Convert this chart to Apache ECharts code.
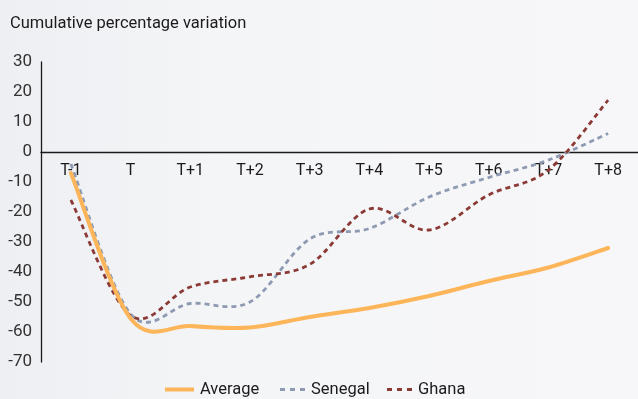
<!DOCTYPE html>
<html>
<head>
<meta charset="utf-8">
<script src="https://cdn.jsdelivr.net/npm/echarts@6/dist/echarts.min.js"></script>
<style>
  html, body { margin: 0; padding: 0; }
  body { background: linear-gradient(90deg, #edeff2 0%, #f4f5f7 35%, #f7f7f9 100%); }
  #chart { width: 638px; height: 399px; }
</style>
</head>
<body>
<div id="chart"></div>
<script>
// Periods relative to the shock year T
const periods = ['T-1', 'T', 'T+1', 'T+2', 'T+3', 'T+4', 'T+5', 'T+6', 'T+7', 'T+8'];

// Cumulative percentage variation by period
const average = [-7, -55.5, -58, -58.5, -55, -52, -48, -43, -38.5, -32];
const senegal = [-4, -54, -50.5, -50, -29, -25.5, -15, -8.5, -2.7, 6.2];
const ghana   = [-16, -54.5, -45, -41.6, -37.5, -19, -26, -14.3, -6, 17.3];

const yTicks = { min: -70, max: 30, step: 10 };

const FONT = '"Liberation Sans Narrow", Roboto, "Open Sans", sans-serif';
const INK = '#1c1a1b';

const COLORS = { average: '#fdb55a', senegal: '#8d9ab2', ghana: '#8b3a36' };

// Smooth curve through the projected points (cardinal spline, tension 1/6)
function curvePath(pts) {
  const n = pts.length;
  const at = (i) => pts[Math.max(0, Math.min(n - 1, i))];
  let d = 'M' + pts[0][0] + ',' + pts[0][1];
  for (let i = 0; i < n - 1; i++) {
    const p0 = at(i - 1), p1 = at(i), p2 = at(i + 1), p3 = at(i + 2);
    const c1x = p1[0] + (p2[0] - p0[0]) / 6, c1y = p1[1] + (p2[1] - p0[1]) / 6;
    const c2x = p2[0] - (p3[0] - p1[0]) / 6, c2y = p2[1] - (p3[1] - p1[1]) / 6;
    d += 'C' + c1x + ',' + c1y + ' ' + c2x + ',' + c2y + ' ' + p2[0] + ',' + p2[1];
  }
  return d;
}

function curveSeries(name, values, color, width, dash, z) {
  return {
    name: name,
    type: 'custom',
    coordinateSystem: 'cartesian2d',
    data: values.map((v, i) => [i, v]),
    encode: { x: 0, y: 1 },
    z: z,
    itemStyle: { color: color },
    renderItem: function (params, api) {
      if (params.dataIndex !== 0) return null;
      const pts = values.map((v, i) => api.coord([i, v]));
      return {
        type: 'path',
        shape: { pathData: curvePath(pts) },
        style: {
          fill: null, stroke: color, lineWidth: width,
          lineDash: dash, lineCap: dash ? 'butt' : 'round'
        },
        silent: true
      };
    }
  };
}

function legendItem(name, left, icon, width, height) {
  return {
    left: left, top: 381, padding: 0,
    itemWidth: width, itemHeight: height,
    selectedMode: false,
    textStyle: { fontFamily: FONT, fontSize: 16.5, color: INK, padding: [0, 0, 0, 1] },
    data: [{ name: name, icon: icon }]
  };
}

const dashIcon = 'path://M0,0h5v3h-5z M10,0h5v3h-5z M20,0h5v3h-5z';
const solidIcon = 'path://M0,0h29v4h-29z';

const chart = echarts.init(document.getElementById('chart'), null, { renderer: 'canvas' });

chart.setOption({
  backgroundColor: 'transparent',
  animation: false,
  title: {
    text: 'Cumulative percentage variation',
    left: 10, top: 15, padding: 0,
    textStyle: { fontFamily: FONT, fontSize: 16.5, fontWeight: 'normal', color: INK }
  },
  grid: { left: 41, top: 62, width: 604, height: 300, containLabel: false },
  legend: [
    legendItem('Average', 165, solidIcon, 29, 4),
    legendItem('Senegal', 280, dashIcon, 25, 3),
    legendItem('Ghana', 387, dashIcon, 25, 3)
  ],
  xAxis: {
    type: 'category',
    data: periods,
    boundaryGap: true,
    position: 'bottom',
    offset: -210,
    axisLine: { onZero: false, lineStyle: { color: INK, width: 1.3 } },
    axisTick: { show: false },
    axisLabel: { fontFamily: FONT, fontSize: 16, color: INK, margin: 11 },
    splitLine: { show: false }
  },
  yAxis: {
    type: 'value',
    min: yTicks.min, max: yTicks.max, interval: yTicks.step,
    axisLine: { show: true, lineStyle: { color: INK, width: 1.3 } },
    axisTick: { show: false },
    splitLine: { show: false },
    axisLabel: { fontFamily: FONT, fontSize: 17, color: '#333132', margin: 9 }
  },
  series: [
    curveSeries('Average', average, COLORS.average, 4, null, 3),
    curveSeries('Senegal', senegal, COLORS.senegal, 2.8, [5, 4], 2),
    curveSeries('Ghana', ghana, COLORS.ghana, 2.8, [5, 4], 2)
  ]
});
</script>
</body>
</html>
